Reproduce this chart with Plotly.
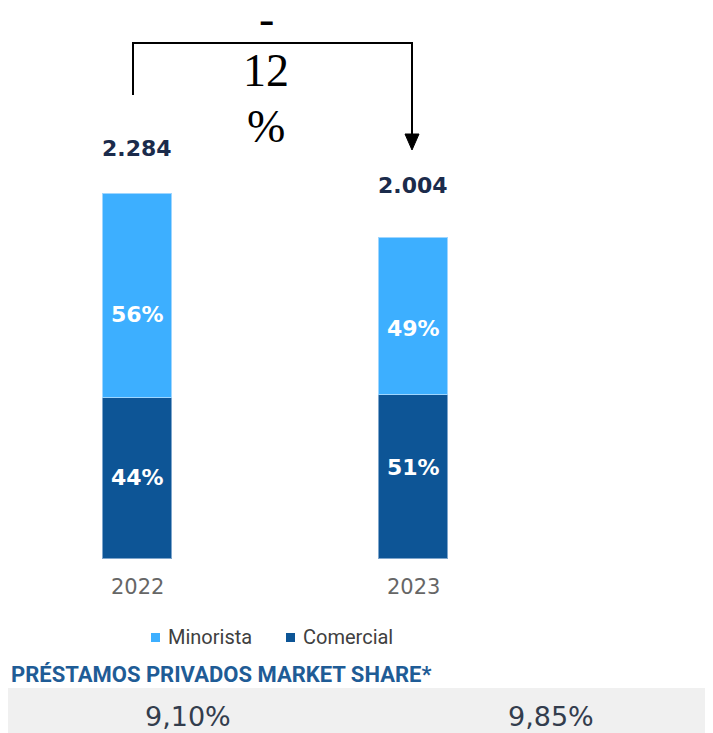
import plotly.graph_objects as go

years = ["2022", "2023"]
totales = [2284, 2004]
pct_comercial = [44, 51]
pct_minorista = [56, 49]
etiquetas_total = ["2.284", "2.004"]
market_share = ["9,10%", "9,85%"]
variacion = ["-", "12", "%"]

# la página deja 8px de margen arriba y a la izquierda
W, H = 705, 725
OFF = 8

def px(x):
    return (x - OFF) / W

def py(y):
    return 1 - (y - OFF) / H

comercial = [t * p / 100 for t, p in zip(totales, pct_comercial)]
minorista = [t - c for t, c in zip(totales, comercial)]
xs = [0, 1]
C_MIN = "#3DAFFF"
C_COM = "#0D5596"
BAR_FONT = dict(family="DejaVu Sans", size=22, color="white", weight="bold")

fig = go.Figure()
fig.add_trace(go.Bar(x=xs, y=comercial, name="Comercial", width=0.25,
                     marker=dict(color=C_COM, line=dict(color="#7FA6CC", width=1))))
fig.add_trace(go.Bar(x=xs, y=minorista, name="Minorista", width=0.25,
                     marker=dict(color=C_MIN, line=dict(color="#9FD6FF", width=1))))

# porcentajes dentro de las barras
for x, c, m, pc, pm, sc, sm in zip(xs, comercial, minorista, pct_comercial, pct_minorista,
                                   [0, 9], [-19, -12]):
    fig.add_annotation(x=x, y=c / 2, text=f"{pc}%", showarrow=False, yshift=sc,
                       yanchor="middle", font=BAR_FONT)
    fig.add_annotation(x=x, y=c + m / 2, text=f"{pm}%", showarrow=False, yshift=sm,
                       yanchor="middle", font=BAR_FONT)

# totales encima de las barras
for x, t, lab, sh in zip(xs, totales, etiquetas_total, [30, 38]):
    fig.add_annotation(x=x, y=t, text=lab, showarrow=False, yanchor="bottom", yshift=sh,
                       font=dict(family="DejaVu Sans", size=22, color="#1B2B4B", weight="bold"))

# años
for x, yr in zip(xs, years):
    fig.add_annotation(x=x, y=py(587), yref="paper", yanchor="middle", text=yr, showarrow=False,
                       font=dict(family="DejaVu Sans", size=21, color="#666666"))

# flecha de variación
fig.add_shape(type="path", xref="paper", yref="paper",
              path=f"M {px(133)} {py(95)} L {px(133)} {py(43)} L {px(412)} {py(43)} L {px(412)} {py(136)}",
              line=dict(color="black", width=2))
fig.add_shape(type="path", xref="paper", yref="paper",
              path=f"M {px(405)} {py(134)} L {px(419)} {py(134)} L {px(412)} {py(150)} Z",
              fillcolor="black", line=dict(color="black", width=1))
for txt, y in zip(variacion, [18, 70, 126]):
    fig.add_annotation(x=px(266), y=py(y), xref="paper", yref="paper", yanchor="middle",
                       text=txt, showarrow=False,
                       font=dict(family="Liberation Serif", size=46, color="black"))

# leyenda
for x0, nombre, col in [(151, "Minorista", C_MIN), (286, "Comercial", C_COM)]:
    fig.add_shape(type="rect", xref="paper", yref="paper", x0=px(x0), x1=px(x0 + 9),
                  y0=py(642), y1=py(633), fillcolor=col, line=dict(width=0))
    fig.add_annotation(x=px(x0 + 15), y=py(637), xref="paper", yref="paper", xanchor="left",
                       yanchor="middle", text=nombre, showarrow=False,
                       font=dict(family="Roboto", size=20, color="#404040"))

# cuota de mercado
fig.add_annotation(x=px(9), y=py(674), xref="paper", yref="paper", xanchor="left",
                   yanchor="middle", text="PRÉSTAMOS PRIVADOS MARKET SHARE*", showarrow=False,
                   font=dict(family="Roboto", size=22, color="#1F5C96", weight="bold"))
fig.add_shape(type="rect", xref="paper", yref="paper", x0=0, x1=1, y0=0, y1=py(688),
              fillcolor="#F0F0F0", line=dict(width=0), layer="below")
for x, ms in zip([143, 596], market_share):
    fig.add_annotation(x=px(x), y=py(716), xref="paper", yref="paper", yanchor="middle",
                       text=ms, showarrow=False,
                       font=dict(family="DejaVu Sans", size=27, color="#333D4D"))

scale = 365 / totales[0]
fig.update_layout(
    width=W, height=H, margin=dict(l=0, r=0, t=0, b=0),
    plot_bgcolor="white", paper_bgcolor="white",
    barmode="stack", showlegend=False,
    xaxis=dict(range=[-(137 - OFF) / 276, (W - 137 + OFF) / 276], visible=False),
    yaxis=dict(range=[-(H - 558 + OFF) / scale, (558 - OFF) / scale], visible=False),
)

fig.write_html("out.html")
